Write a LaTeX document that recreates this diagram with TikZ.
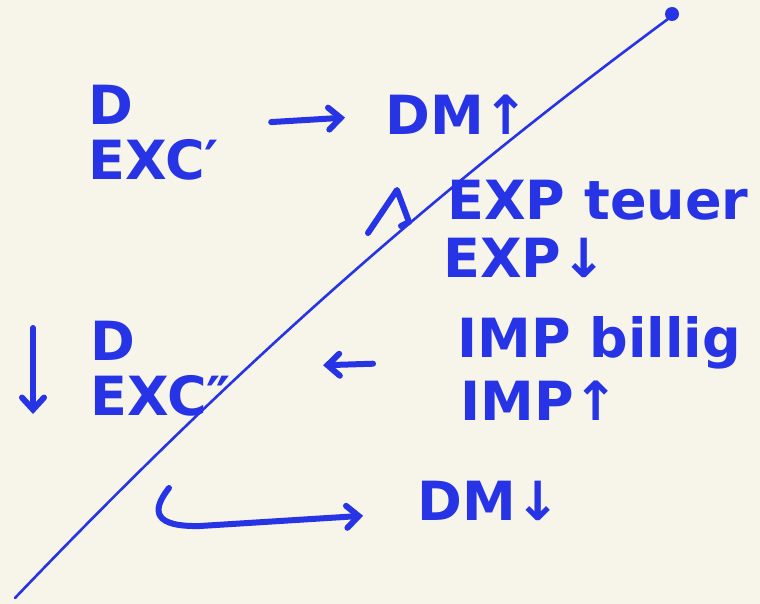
\documentclass[tikz,border=0pt]{standalone}
\usepackage{fontspec}
\setmainfont{DejaVu Sans}
\usetikzlibrary{arrows.meta}
\definecolor{ink}{RGB}{38,52,230}
\definecolor{paper}{RGB}{247,244,234}

\begin{document}
\begin{tikzpicture}[
    x=0.5pt, y=-0.5pt,
    txt/.style={anchor=base west, inner sep=0pt, text=ink, align=left, font=\bfseries\fontsize{27}{27.5}\selectfont},
    arr/.style={-{Straight Barb[length=6pt, width=11pt, line cap=round]}, draw=ink, line width=3pt, line cap=round},
    stroke/.style={draw=ink, line width=3pt, line cap=round, line join=round},
    axis/.style={draw=ink, line width=1.3pt, line cap=round}
]
\fill[paper] (0,0) rectangle (760,604);
\useasboundingbox (0,0) rectangle (760,604);

% the dividing line
\coordinate (lineLow) at (15,598);
\coordinate (lineTop) at (668,19);
\draw[axis] (lineLow) .. controls (250,352) and (450,180) .. (lineTop);
\fill[ink] (672,14) circle (3.5pt);

% left side
\node[txt] (excA) at (88,180) {D\\EXC′};
\node[txt] (excB) at (90,415) {D\\EXC″};
\coordinate (fallTop) at (33,328);
\coordinate (fallEnd) at (33,414);
\draw[arr] (fallTop) -- (fallEnd);

% right side
\node[txt] (dmUp) at (385,135) {DM↑};
\node[txt] (expHigh) at (447,220) {EXP teuer};
\node[txt] (expDown) at (443,278) {EXP↓};
\node[txt] (impLow) at (457,357) {IMP billig};
\node[txt] (impUp) at (460,420) {IMP↑};
\node[txt] (dmDown) at (417,520) {DM↓};

% small rise mark beside the line
\draw[stroke] (368,233) -- (397,190) -- (409,222) -- (401,226);

\draw[arr, shorten <=26pt, shorten >=20pt] ([yshift=4pt]excA.east) -- (dmUp.west);
\draw[arr, shorten <=42pt, shorten >=46pt] ([yshift=4pt]impLow.south west) -- (excB.east);
\coordinate (hookStart) at (169,488);
\draw[arr, shorten >=27pt] (hookStart) .. controls (150,512) and (155,527) .. (200,526) -- ([yshift=-6pt]dmDown.west);
\end{tikzpicture}
\end{document}
